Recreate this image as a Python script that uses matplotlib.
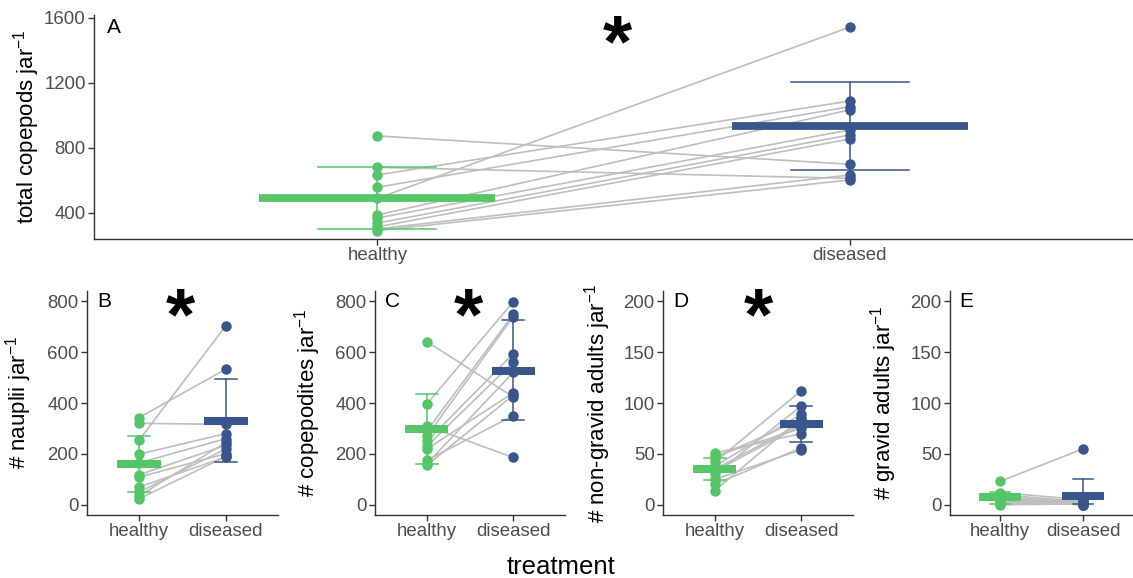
import numpy as np
import matplotlib
matplotlib.use("Agg")
import matplotlib.pyplot as plt

plt.rcParams['font.family'] = ['Liberation Sans', 'DejaVu Sans']
plt.rcParams['mathtext.fontset'] = 'custom'
plt.rcParams['mathtext.rm'] = 'Liberation Sans'
plt.rcParams['mathtext.it'] = 'Liberation Sans:italic'

#%% Data (one value per jar, healthy -> diseased)
groups = ['healthy', 'diseased']

total_healthy = [874, 681, 634, 558, 490, 388, 369, 338, 315, 302, 292]
total_diseased = [700, 613, 1089, 1054, 1543, 1034, 911, 880, 855, 634, 603]
total_mean = [494, 935]
total_lo = [302, 665]
total_hi = [683, 1206]

naup_healthy = [343, 320, 254, 199, 165, 118, 109, 70, 50, 35, 24]
naup_diseased = [533, 316, 704, 280, 260, 234, 201, 188, 220, 245, 190]
naup_mean = [159, 329]
naup_lo = [50, 168]
naup_hi = [270, 494]

cope_healthy = [641, 396, 310, 290, 269, 249, 230, 219, 175, 161, 155]
cope_diseased = [424, 797, 186, 748, 739, 594, 560, 440, 350, 520, 430]
cope_mean = [298, 525]
cope_lo = [161, 332]
cope_hi = [436, 726]

ngrav_healthy = [51, 48, 46, 42, 38, 35, 33, 30, 25, 20, 14]
ngrav_diseased = [70, 75, 84, 112, 89, 80, 78, 97, 54, 56, 85]
ngrav_mean = [35.4, 79]
ngrav_lo = [24.6, 61.5]
ngrav_hi = [45.8, 97.5]

grav_healthy = [23, 12, 10, 8, 7, 6, 5, 4, 2, 1, 0]
grav_diseased = [55, 5, 3, 2, 1, 0, 0, 0, 2, 4, 1]
grav_mean = [7.5, 9.1]
grav_lo = [1, 1]
grav_hi = [13, 25.5]

cols = ['#55C667', '#39568C']

#%% Figure
W, H = 1133, 578
fig = plt.figure(figsize=(W / 100, H / 100), dpi=100)

def px_axes(left, top, right, bottom):
	return fig.add_axes([left / W, 1 - bottom / H, (right - left) / W, (bottom - top) / H])

def panel(ax, healthy, diseased, mean, lo, hi, ylim, yticks, ylab, letter, star, labx, barw, lw_bar, ms):
	for h, d in zip(healthy, diseased):
		ax.plot([1, 2], [h, d], color='#BEBEBE', lw=1.2, zorder=1)
	for i in range(2):
		x = i + 1
		ax.plot([x - barw, x + barw], [mean[i], mean[i]], color=cols[i], lw=lw_bar,
				solid_capstyle='butt', zorder=2)
		ax.plot([x, x], [lo[i], hi[i]], color=cols[i], lw=1.1, zorder=3)
		for v in (lo[i], hi[i]):
			ax.plot([x - barw / 2, x + barw / 2], [v, v], color=cols[i], lw=1.1, zorder=3)
	ax.plot(np.ones(len(healthy)), healthy, 'o', color=cols[0], ms=ms, mec='none', zorder=4)
	ax.plot(np.full(len(diseased), 2), diseased, 'o', color=cols[1], ms=ms, mec='none', zorder=4)
	ax.set_xlim(0.4, 2.6)
	ax.set_ylim(*ylim)
	ax.set_yticks(yticks)
	ax.set_xticks([1, 2])
	ax.set_xticklabels(groups)
	for s in ['top', 'right']:
		ax.spines[s].set_visible(False)
	for s in ['left', 'bottom']:
		ax.spines[s].set_linewidth(1.0)
		ax.spines[s].set_color('#333333')
	ax.tick_params(length=4, width=1.0, color='#333333', labelcolor='#4D4D4D', labelsize=13.4, pad=2)
	ax.set_ylabel(ylab, fontsize=16, color='black')
	ax.yaxis.set_label_coords(labx, 0.5)
	ax.text(letter[0], letter[1], letter[2], transform=ax.transAxes, fontsize=15,
			ha='left', va='center')
	if star is not None:
		ax.text(star[0], star[1], '*', transform=ax.transAxes, fontsize=54,
				fontweight='bold', ha='center', va='center')

axA = px_axes(94, 15, 1133, 239)
panel(axA, total_healthy, total_diseased, total_mean, total_lo, total_hi,
	  (240, 1618), [400, 800, 1200, 1600], 'total copepods jar$^{-1}$',
	  (0.0125, 0.946, 'A'), (0.504, 0.86), -0.05, 0.25, 5.6, 7.5)

axB = px_axes(87, 291, 278, 515)
panel(axB, naup_healthy, naup_diseased, naup_mean, naup_lo, naup_hi,
	  (-40, 840), [0, 200, 400, 600, 800], '# nauplii jar$^{-1}$',
	  (0.052, 0.951, 'B'), (0.49, 0.87), -0.277, 0.25, 5.8, 7.5)

axC = px_axes(375, 291, 565, 515)
panel(axC, cope_healthy, cope_diseased, cope_mean, cope_lo, cope_hi,
	  (-40, 840), [0, 200, 400, 600, 800], '# copepodites jar$^{-1}$',
	  (0.052, 0.951, 'C'), (0.49, 0.87), -0.274, 0.25, 5.8, 7.5)

axD = px_axes(663, 291, 853, 515)
panel(axD, ngrav_healthy, ngrav_diseased, ngrav_mean, ngrav_lo, ngrav_hi,
	  (-10, 210), [0, 50, 100, 150, 200], '# non-gravid adults jar$^{-1}$',
	  (0.052, 0.951, 'D'), (0.5, 0.87), -0.263, 0.25, 5.8, 7.5)

axE = px_axes(950, 291, 1133, 515)
panel(axE, grav_healthy, grav_diseased, grav_mean, grav_lo, grav_hi,
	  (-10, 210), [0, 50, 100, 150, 200], '# gravid adults jar$^{-1}$',
	  (0.052, 0.951, 'E'), None, -0.28, 0.25, 5.8, 7.5)

fig.text(561 / W, 1 - 567 / H, 'treatment', fontsize=18.5, ha='center', va='center')

fig.savefig('out.png', dpi=100)
